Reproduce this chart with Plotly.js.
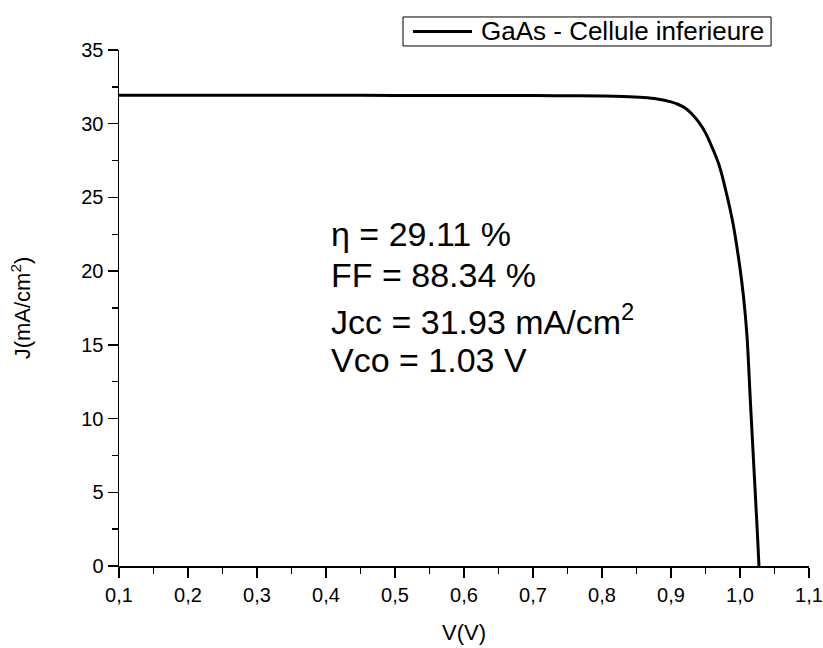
<!DOCTYPE html>
<html>
<head>
<meta charset="utf-8">
<script src="https://cdn.plot.ly/plotly-3.0.1.min.js"></script>
<style>html,body{margin:0;padding:0;background:#fff}#chart{width:823px;height:648px}</style>
</head>
<body>
<div id="chart"></div>
<script>
const seriesName = "GaAs - Cellule inferieure";
const voltage = [0.1, 0.2, 0.3, 0.4, 0.5, 0.6, 0.7, 0.75, 0.8, 0.83, 0.86, 0.88, 0.9, 0.91, 0.92, 0.93, 0.94, 0.95, 0.96, 0.97, 0.98, 0.99, 1.0, 1.005, 1.01, 1.015, 1.02, 1.025, 1.0275];
const current = [31.93, 31.93, 31.93, 31.93, 31.92, 31.92, 31.91, 31.90, 31.88, 31.85, 31.78, 31.68, 31.48, 31.32, 31.08, 30.68, 30.12, 29.38, 28.35, 27.15, 25.35, 23.2, 20.2, 18.3, 15.7, 11.2, 6.8, 2.4, 0];
const statLines = ["η = 29.11 %", "FF = 88.34 %", "Jcc = 31.93 mA/cm<sup>2</sup>", "Vco = 1.03 V"];
const statY = [22.5, 19.75, 16.75, 13.95];
const xTickVals = [0.1, 0.2, 0.3, 0.4, 0.5, 0.6, 0.7, 0.8, 0.9, 1.0, 1.1];
const xTickText = ["0,1", "0,2", "0,3", "0,4", "0,5", "0,6", "0,7", "0,8", "0,9", "1,0", "1,1"];
const yTickVals = [0, 5, 10, 15, 20, 25, 30, 35];

const font = "Liberation Sans, Arial, sans-serif";

const trace = {
  x: voltage, y: current, type: "scatter", mode: "lines", name: seriesName,
  line: {color: "#000", width: 3, shape: "spline", smoothing: 1},
  showlegend: false
};

const layout = {
  width: 823, height: 648,
  margin: {l: 119, r: 14, t: 50, b: 82},
  paper_bgcolor: "#fff", plot_bgcolor: "#fff",
  font: {family: font, color: "#000"},
  showlegend: false,
  xaxis: {
    range: [0.1, 1.1], tickvals: xTickVals, ticktext: xTickText,
    ticks: "outside", ticklen: 10, tickwidth: 1.5, tickcolor: "#000",
    showline: true, linecolor: "#000", linewidth: 1.5, showgrid: false, zeroline: false,
    tickfont: {size: 20, family: font}, ticklabeloverflow: "allow",
    minor: {dtick: 0.05, tick0: 0.1, ticks: "outside", ticklen: 6, tickwidth: 1.5, tickcolor: "#000", showgrid: false},
    title: {text: "V(V)", font: {size: 22, family: font}, standoff: 20}
  },
  yaxis: {
    range: [0, 35], tickvals: yTickVals,
    ticks: "outside", ticklen: 10, tickwidth: 1.5, tickcolor: "#000",
    showline: true, linecolor: "#000", linewidth: 1.5, showgrid: false, zeroline: false,
    tickfont: {size: 20, family: font}, ticklabeloverflow: "allow",
    minor: {dtick: 2.5, tick0: 0, ticks: "outside", ticklen: 6, tickwidth: 1.5, tickcolor: "#000", showgrid: false},
    title: {text: "J(mA/cm<sup>2</sup>)", font: {size: 22, family: font}, standoff: 44}
  },
  shapes: [
    {type: "rect", xref: "paper", yref: "paper", x0: 0.4116, x1: 0.945, y0: 1.0078, y1: 1.064,
     line: {color: "#000", width: 1}, fillcolor: "#fff"},
    {type: "line", xref: "paper", yref: "paper", x0: 0.426, x1: 0.5116, y0: 1.036, y1: 1.036,
     line: {color: "#000", width: 3}}
  ],
  annotations: statLines.map((t, i) => ({
    text: t, x: 0.404, y: statY[i], xref: "x", yref: "y",
    xanchor: "left", yanchor: "middle", showarrow: false,
    font: {size: 34, family: font, color: "#000"}
  })).concat([{
    text: seriesName, x: 0.5217, y: 1.036, xref: "paper", yref: "paper",
    xanchor: "left", yanchor: "middle", showarrow: false,
    font: {size: 26, family: font, color: "#000"}
  }])
};

Plotly.newPlot("chart", [trace], layout, {displayModeBar: false, staticPlot: true});
</script>
</body>
</html>
